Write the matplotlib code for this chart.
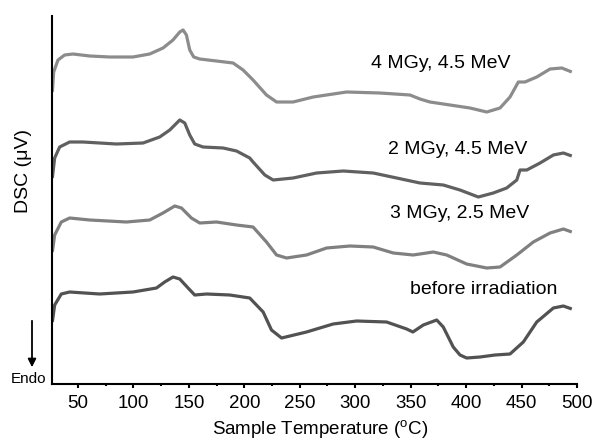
import matplotlib.pyplot as plt
from matplotlib.patches import FancyArrowPatch
from matplotlib.ticker import MultipleLocator

plt.rcParams['font.family'] = ['Liberation Sans', 'DejaVu Sans']

# curve points: temperature (C) and signal (arbitrary units, curves stacked)
t_4mgy = [26.9, 28.1, 32.0, 38.0, 45.5, 60.6, 78.6, 99.6, 114.7, 126.7, 135.7, 141.8, 144.8, 147.8,
          150.8, 154.4, 159.8, 174.9, 189.9, 198.9, 207.9, 220.0, 229.1, 244.0, 262.1, 292.2, 322.3,
          349.4, 358.4, 367.4, 385.5, 403.5, 418.6, 430.6, 439.6, 447.1, 453.1, 463.7, 475.7, 486.3, 495.3]
s_4mgy = [292, 312, 324, 329, 330, 328, 327, 327, 330, 336, 344, 352, 354, 349,
          334, 327, 325, 323, 321, 314, 304, 289, 282, 282, 287, 292, 291,
          289, 285, 282, 279, 276, 272, 276, 287, 302, 302, 307, 315, 316, 312]

t_2mgy = [26.9, 29.0, 33.5, 42.5, 54.5, 84.7, 108.7, 123.7, 132.8, 141.8, 146.3, 150.8, 155.3, 162.8,
          180.9, 193.0, 204.9, 207.9, 218.5, 226.0, 244.0, 265.2, 289.2, 316.2, 337.4, 358.4, 379.4,
          394.5, 411.0, 424.5, 436.6, 445.7, 448.6, 454.7, 466.7, 478.7, 487.7, 495.3]
s_2mgy = [206, 226, 237, 242, 242, 240, 241, 247, 254, 264, 261, 249, 240, 237,
          236, 233, 226, 222, 209, 204, 206, 211, 213, 211, 206, 201, 199,
          194, 187, 191, 196, 204, 214, 214, 221, 229, 231, 228]

t_3mgy = [26.9, 29.0, 35.0, 42.5, 60.6, 93.7, 114.7, 126.7, 137.3, 143.3, 152.3, 159.8, 174.9, 193.0,
          207.9, 220.0, 229.1, 238.1, 256.1, 274.2, 295.2, 316.2, 334.3, 352.3, 370.4, 382.5, 400.5,
          418.6, 430.6, 445.7, 460.6, 475.7, 487.7, 495.3]
s_3mgy = [132, 149, 162, 166, 164, 162, 164, 171, 178, 176, 166, 161, 162, 159,
          157, 142, 129, 126, 129, 136, 138, 137, 131, 129, 132, 129, 120,
          116, 117, 129, 142, 151, 155, 152]

t_before = [26.9, 29.0, 35.0, 42.5, 69.6, 99.6, 120.8, 128.2, 135.7, 141.8, 149.3, 155.3, 165.9, 186.9,
            204.9, 217.0, 224.5, 233.6, 241.1, 256.1, 280.1, 301.3, 328.3, 346.4, 352.0, 361.4, 373.5,
            379.4, 388.4, 394.5, 400.5, 412.6, 426.1, 439.6, 451.6, 463.7, 478.7, 487.7, 495.3]
s_before = [62, 79, 90, 92, 90, 92, 96, 102, 107, 105, 96, 89, 90, 89,
            86, 72, 54, 46, 48, 52, 60, 63, 62, 55, 52, 59, 64,
            57, 37, 29, 26, 27, 29, 30, 42, 62, 76, 78, 75]

labels = ['4 MGy, 4.5 MeV', '2 MGy, 4.5 MeV', '3 MGy, 2.5 MeV', 'before irradiation']
label_x = [377, 392, 394, 416]
label_y = [321, 234, 171, 94]

fig = plt.figure(figsize=(5.95, 4.43), dpi=100)
ax = fig.add_axes([52 / 595, 59 / 443, 525 / 595, 368 / 443])

style = dict(lw=2.3, solid_joinstyle='round', solid_capstyle='butt')
ax.plot(t_4mgy, s_4mgy, color='#8c8c8c', **style)
ax.plot(t_2mgy, s_2mgy, color='#606060', **style)
ax.plot(t_3mgy, s_3mgy, color='#808080', **style)
ax.plot(t_before, s_before, color='#525252', **style)

for lab, lx, ly in zip(labels, label_x, label_y):
    ax.text(lx, ly, lab, ha='center', va='center', fontsize=14)

ax.set_xlim(26.6, 500)
ax.set_ylim(0, 368)
ax.spines['top'].set_visible(False)
ax.spines['right'].set_visible(False)
ax.spines['left'].set_linewidth(1.5)
ax.spines['bottom'].set_linewidth(1.5)
ax.set_yticks([])
ax.xaxis.set_major_locator(MultipleLocator(50))
ax.xaxis.set_minor_locator(MultipleLocator(25))
ax.tick_params(axis='x', which='major', direction='out', length=3, width=1.5, labelsize=13.5, pad=5)
ax.tick_params(axis='x', which='minor', direction='out', length=1.5, width=1.5)

ax.set_xlabel('Sample Temperature ($^\\mathregular{o}$C)', fontsize=13.5)
ax.xaxis.set_label_coords(0.51, -0.094)
ax.set_ylabel('DSC (\u03bcV)', fontsize=14)
ax.yaxis.set_label_coords(-0.038, 0.579)

# endo arrow
fig.text(28.5 / 595, 1 - 379 / 443, 'Endo', fontsize=11, ha='center', va='center')
fig.add_artist(FancyArrowPatch(
    (32 / 595, 1 - 318 / 443), (32 / 595, 1 - 370 / 443), transform=fig.transFigure,
    arrowstyle='-|>', mutation_scale=12, color='black', lw=1.3))

fig.savefig('out.png', dpi=100)
